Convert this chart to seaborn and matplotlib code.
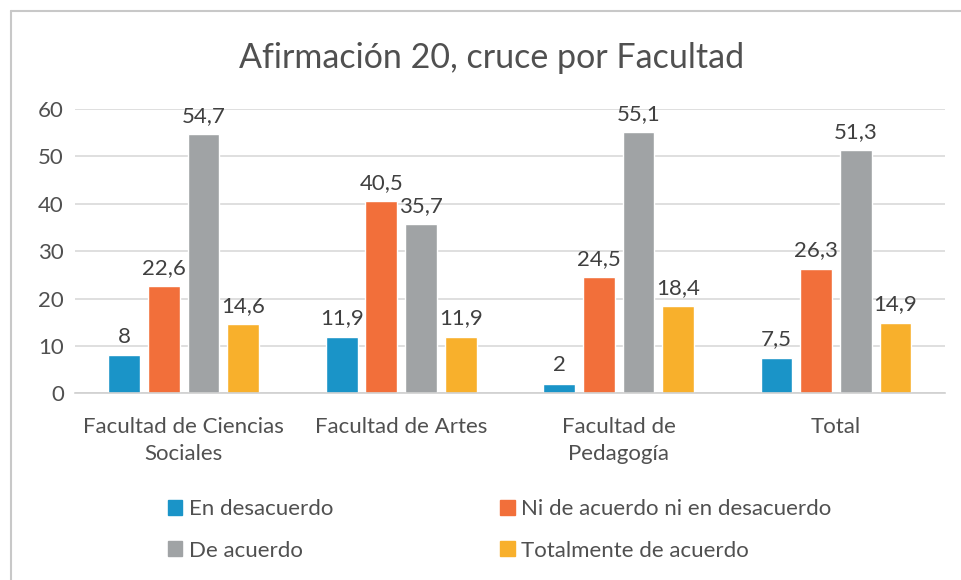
import matplotlib
matplotlib.use("Agg")
import matplotlib.pyplot as plt
import pandas as pd
import seaborn as sns
from matplotlib.lines import Line2D

# data
categories = ["Facultad de Ciencias\nSociales", "Facultad de Artes",
              "Facultad de\nPedagogía", "Total"]
series = ["En desacuerdo", "Ni de acuerdo ni en desacuerdo",
          "De acuerdo", "Totalmente de acuerdo"]
en_desacuerdo = [8, 11.9, 2, 7.5]
ni_ni = [22.6, 40.5, 24.5, 26.3]
de_acuerdo = [54.7, 35.7, 55.1, 51.3]
totalmente = [14.6, 11.9, 18.4, 14.9]
colors = ["#1A94C8", "#F26F3A", "#A0A3A5", "#F8B02C"]

rows = []
for s, vals in zip(series, [en_desacuerdo, ni_ni, de_acuerdo, totalmente]):
    for c, v in zip(categories, vals):
        rows.append({"Facultad": c, "Respuesta": s, "Valor": v})
df = pd.DataFrame(rows)

sns.set_theme(style="white")
plt.rcParams["font.family"] = ["Lato", "DejaVu Sans"]
txt = "#505050"
fs = 16

fig = plt.figure(figsize=(9.62, 5.8), dpi=100)
ax = fig.add_axes([0.078, 0.322, 0.904, 0.49])

sns.barplot(data=df, x="Facultad", y="Valor", hue="Respuesta",
            order=categories, hue_order=series, palette=colors,
            width=0.73, gap=0.2, ax=ax, legend=False, saturation=1)

for cont in ax.containers:
    labels = [f"{b.get_height():g}".replace(".", ",") for b in cont]
    ax.bar_label(cont, labels=labels, padding=6, fontsize=fs, color="#404040")

ax.set_ylim(0, 60)
ax.set_yticks(range(0, 61, 10))
ax.set_xlim(-0.5, 3.5)
ax.yaxis.grid(True, color="#D9D9D9", linewidth=1.2)
ax.set_axisbelow(True)
for side in ["top", "right", "left"]:
    ax.spines[side].set_visible(False)
ax.spines["bottom"].set_color("#D0D0D0")
ax.spines["bottom"].set_linewidth(1.2)
ax.tick_params(axis="both", length=0, labelsize=fs, labelcolor=txt)
ax.tick_params(axis="y", pad=8)
ax.tick_params(axis="x", pad=17)
for lab in ax.get_xticklabels():
    lab.set_linespacing(1.45)
ax.set_xlabel("")
ax.set_ylabel("")

fig.suptitle("Afirmación 20, cruce por Facultad", x=0.511, y=0.927,
             fontsize=24.5, color=txt)

# row-wise legend order, two columns
order = [0, 2, 1, 3]
handles = [plt.Rectangle((0, 0), 1, 1, color=colors[i]) for i in order]
fig.legend(handles, [series[i] for i in order], ncol=2, loc="upper left",
           bbox_to_anchor=(0.163, 0.158), frameon=False,
           fontsize=fs, labelcolor=txt, handlelength=0.65,
           handleheight=0.65, handletextpad=0.3, columnspacing=7.5,
           labelspacing=0.95, borderpad=0)

# partial frame of the cropped chart area
fig.add_artist(Line2D([11 / 962, 11 / 962], [0, 1 - 11 / 580],
                      transform=fig.transFigure, color="#C8C8C8", lw=1.5))
fig.add_artist(Line2D([11 / 962, 1], [1 - 11 / 580, 1 - 11 / 580],
                      transform=fig.transFigure, color="#C8C8C8", lw=1.5))

fig.savefig("out.png", dpi=100)
